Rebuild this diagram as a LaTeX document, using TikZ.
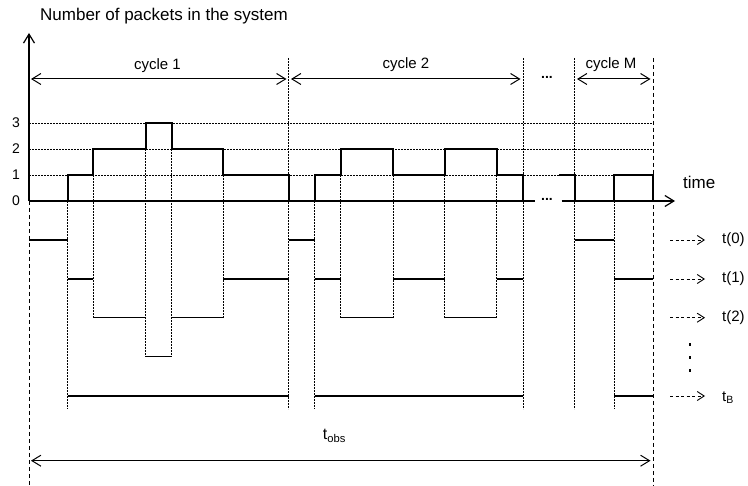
\documentclass[tikz,border=0pt]{standalone}
\usepackage{fontspec}
\setmainfont{Liberation Sans}
\usetikzlibrary{arrows.meta,positioning}

\begin{document}
\begin{tikzpicture}[x=1pt,y=-1pt,
    gridline/.style={line width=0.8pt, dash pattern=on 1.6pt off 1.4pt},
    framedash/.style={line width=0.9pt, dash pattern=on 4pt off 3pt},
    stepline/.style={line width=2pt, line join=miter},
    rowline/.style={line width=1.2pt},
    cyclearrow/.style={line width=1pt, {Straight Barb[length=9pt,width=11pt]}-{Straight Barb[length=9pt,width=11pt]}},
    ptr/.style={line width=0.9pt, dash pattern=on 3pt off 2.5pt, -{Straight Barb[length=7pt,width=9pt]}, shorten >=17pt},
    lbl/.style={font=\fontsize{15}{18}\selectfont, inner sep=0pt}]
    \useasboundingbox (0,0) rectangle (748,486);

    % Title and axes
    \node[lbl, font=\fontsize{17}{20}\selectfont, anchor=base west] (title) at (40,21) {Number of packets in the system};
    \draw[line width=1.2pt, -{Straight Barb[length=9pt,width=11pt]}] (29,201) -- (29,33);
    \draw[line width=1.2pt] (29,201) -- (535,201);
    \draw[line width=1.2pt, -{Straight Barb[length=9pt,width=11pt]}] (561.7,201) -- (675,201);
    \node[lbl, font=\fontsize{17}{20}\selectfont, anchor=base west] (time) at (683,189) {time};
    \node[lbl, font=\fontsize{14}{17}\selectfont\bfseries] (hdots) at (547,199) {...};

    % Levels 0..3
    \foreach \n/\y in {0/201,1/175,2/149,3/123}
        \node[lbl, font=\fontsize{14}{17}\selectfont] (n\n) at (16,\y) {\n};
    \foreach \y in {175,149,123}
        \draw[gridline] (29,\y) -- (653,\y);

    % Boundaries of the cycles
    \draw[framedash] (29,201) -- (29,486);
    \draw[framedash] (653,58) -- (653,486);
    \foreach \x in {288.7,523,574.7}
        \draw[gridline] (\x,58) -- (\x,409);

    % Arrivals and departures
    \foreach \x/\ya/\yb in {67.7/201/409, 93.3/175/317.7, 145.7/149/356.7, 171.7/149/356.7,
        223.3/175/317.7, 314.7/201/409, 340.7/175/317.7, 393/175/317.7, 444.7/175/317.7,
        496.7/175/317.7, 614/201/409}
        \draw[gridline] (\x,\ya) -- (\x,\yb);

    % Number of packets
    \draw[stepline] (29,201) -- (67.7,201) -- (67.7,175) -- (93.3,175) -- (93.3,149)
        -- (145.7,149) -- (145.7,123) -- (171.7,123) -- (171.7,149) -- (223.3,149)
        -- (223.3,175) -- (288.7,175) -- (288.7,201) -- (314.7,201) -- (314.7,175)
        -- (340.7,175) -- (340.7,149) -- (393,149) -- (393,175) -- (444.7,175)
        -- (444.7,149) -- (496.7,149) -- (496.7,175) -- (523,175) -- (523,201);
    \draw[stepline] (559,175) -- (574.7,175) -- (574.7,201) -- (614,201) -- (614,175)
        -- (653,175) -- (653,201);

    % Cycles
    \node[lbl, anchor=base] (cyc1) at (157.5,70) {cycle 1};
    \node[lbl, anchor=base] (cyc2) at (406,69) {cycle 2};
    \node[lbl, anchor=base] (cycM) at (611,69) {cycle M};
    \draw[cyclearrow] (31,79) -- (286.5,79);
    \draw[cyclearrow] (291,79) -- (520.5,79);
    \draw[cyclearrow] (577,79) -- (650.5,79);
    \node[lbl, font=\fontsize{14}{17}\selectfont\bfseries] (cdots) at (547,77) {...};

    % Time spent with i packets
    \foreach \a/\b/\y in {29/67.7/240, 288.7/314.7/240, 574.7/614/240,
        67.7/93.3/279, 223.3/288.7/279, 314.7/340.7/279, 393/444.7/279, 496.7/523/279, 614/653/279,
        93.3/145.7/317.7, 171.7/223.3/317.7, 340.7/393/317.7, 444.7/496.7/317.7,
        145.7/171.7/356.7,
        67.7/288.7/396, 314.7/523/396, 614/653/396}
        \draw[rowline] (\a,\y) -- (\b,\y);

    % Labels on the right
    \node[lbl, anchor=west] (t0) at (722,240) {t(0)};
    \node[lbl, anchor=west] (t1) at (722,279) {t(1)};
    \node[lbl, anchor=west] (t2) at (722,317.7) {t(2)};
    \node[lbl, anchor=west] (tB) at (722,398) {t\textsubscript{B}};
    \draw[ptr] (670,240) -- (t0.west);
    \draw[ptr] (670,279) -- (t1.west);
    \draw[ptr] (670,317.7) -- (t2.west);
    \draw[ptr] (670,396) -- (tB.west |- 0,396);
    \foreach \y in {343,356,369}
        \fill (688.7,\y) rectangle +(2.6,2.6);

    % Observation time
    \node[lbl, font=\fontsize{16}{19}\selectfont, anchor=base west] (tobs) at (322.7,440) {t\textsubscript{obs}};
    \draw[cyclearrow] (31,460.7) -- (650.5,460.7);
\end{tikzpicture}
\end{document}
